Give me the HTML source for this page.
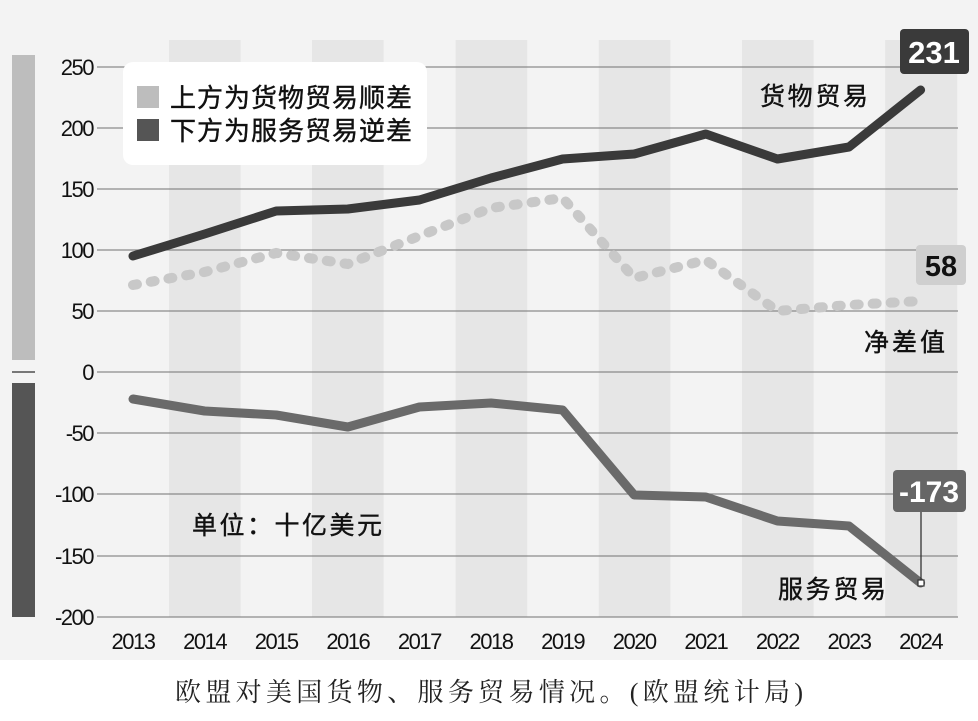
<!DOCTYPE html>
<html><head><meta charset="utf-8"><style>
body{margin:0;background:#fff;}
svg text{font-family:"Liberation Sans","Noto Sans CJK SC",sans-serif;}
</style></head><body>
<svg width="978" height="716" viewBox="0 0 978 716" xmlns="http://www.w3.org/2000/svg">
<rect x="0" y="0" width="978" height="660" fill="#f3f3f3"/>
<g fill="#e6e6e6">
<rect x="169" y="40" width="71.6" height="577"/>
<rect x="312" y="40" width="71.6" height="577"/>
<rect x="455.6" y="40" width="71.6" height="577"/>
<rect x="598.8" y="40" width="71.6" height="577"/>
<rect x="742" y="40" width="71.6" height="577"/>
<rect x="885.2" y="40" width="72" height="577"/>
</g>
<rect x="12" y="55" width="23" height="305" fill="#bdbdbd"/>
<rect x="12" y="371" width="23" height="2" fill="#777"/>
<rect x="12" y="383" width="23" height="234" fill="#555"/>
<g stroke="#8a8a8a" stroke-width="1.3">
<line x1="97" y1="67" x2="958" y2="67"/><line x1="97" y1="128" x2="958" y2="128"/>
<line x1="97" y1="189" x2="958" y2="189"/><line x1="97" y1="250" x2="958" y2="250"/>
<line x1="97" y1="311" x2="958" y2="311"/><line x1="97" y1="372" x2="958" y2="372"/>
<line x1="97" y1="433" x2="958" y2="433"/><line x1="97" y1="494" x2="958" y2="494"/>
<line x1="97" y1="556" x2="958" y2="556"/><line x1="97" y1="617" x2="958" y2="617"/>
</g>
<g font-size="22" fill="#111" text-anchor="end" letter-spacing="-1.5">
<text x="93" y="75">250</text><text x="93" y="136">200</text><text x="93" y="197">150</text>
<text x="93" y="258">100</text><text x="93" y="319">50</text><text x="93" y="380">0</text>
<text x="93" y="441">-50</text><text x="93" y="502">-100</text><text x="93" y="564">-150</text>
<text x="93" y="625">-200</text>
</g>
<g font-size="22" fill="#111" text-anchor="middle" letter-spacing="-1.5">
<text x="133" y="649">2013</text><text x="204.6" y="649">2014</text><text x="276.2" y="649">2015</text>
<text x="347.8" y="649">2016</text><text x="419.4" y="649">2017</text><text x="491" y="649">2018</text>
<text x="562.6" y="649">2019</text><text x="634.2" y="649">2020</text><text x="705.8" y="649">2021</text>
<text x="777.4" y="649">2022</text><text x="849" y="649">2023</text><text x="920.6" y="649">2024</text>
</g>
<polyline fill="none" stroke="#c8c8c8" stroke-width="10" stroke-linecap="round" stroke-dasharray="4 14" points="133,285 204.6,272 276.2,253 347.8,264 419.4,236 491,208 562.6,198 634.2,278 705.8,260 777.4,311 849,305 920.6,301"/>
<polyline fill="none" stroke="#3a3a3a" stroke-width="9" stroke-linejoin="round" stroke-linecap="round" points="133,256 204.6,234 276.2,211 347.8,209 419.4,200 491,178 562.6,159 634.2,154 705.8,134 777.4,159 849,147 920.6,90"/>
<polyline fill="none" stroke="#6a6a6a" stroke-width="9" stroke-linejoin="round" stroke-linecap="round" points="133,399 204.6,411 276.2,415 347.8,427 419.4,407 491,403 562.6,410 634.2,495 705.8,497 777.4,521 849,526 920.6,583"/>
<rect x="123" y="62" width="304" height="103" rx="10" fill="#fff"/>
<rect x="137" y="86" width="22" height="22" fill="#bdbdbd"/>
<rect x="137" y="119" width="22" height="22" fill="#555"/>
<text x="170" y="107" font-size="26" fill="#111" textLength="242" stroke="#111" stroke-width="0.4">上方为货物贸易顺差</text>
<text x="170" y="140" font-size="26" fill="#111" textLength="242" stroke="#111" stroke-width="0.4">下方为服务贸易逆差</text>
<rect x="900" y="29" width="69" height="45" rx="4" fill="#3a3a3a"/>
<text x="934" y="63" font-size="31" font-weight="bold" fill="#fff" text-anchor="middle">231</text>
<rect x="916" y="245" width="50" height="40" rx="4" fill="#cfcfcf"/>
<text x="941" y="276" font-size="29" font-weight="bold" fill="#111" text-anchor="middle">58</text>
<rect x="893" y="470" width="73" height="42" rx="4" fill="#666"/>
<text x="929" y="502" font-size="30" font-weight="bold" fill="#fff" text-anchor="middle">-173</text>
<line x1="921" y1="512" x2="921" y2="582" stroke="#333" stroke-width="1.3"/>
<rect x="918" y="580" width="6" height="6" fill="#fff" stroke="#333" stroke-width="1.2"/>
<g font-size="25" fill="#111" stroke="#111" stroke-width="0.4">
<text x="760" y="105" textLength="108">货物贸易</text>
<text x="864" y="351" textLength="81">净差值</text>
<text x="778" y="598" textLength="108">服务贸易</text>
<text x="192" y="534" textLength="190">单位：十亿美元</text>
</g>
<text x="175" y="701" font-size="26" fill="#222" textLength="628" style="font-family:'Liberation Serif','Noto Serif CJK SC',serif">欧盟对美国货物、服务贸易情况。(欧盟统计局)</text>
</svg>
</body></html>
